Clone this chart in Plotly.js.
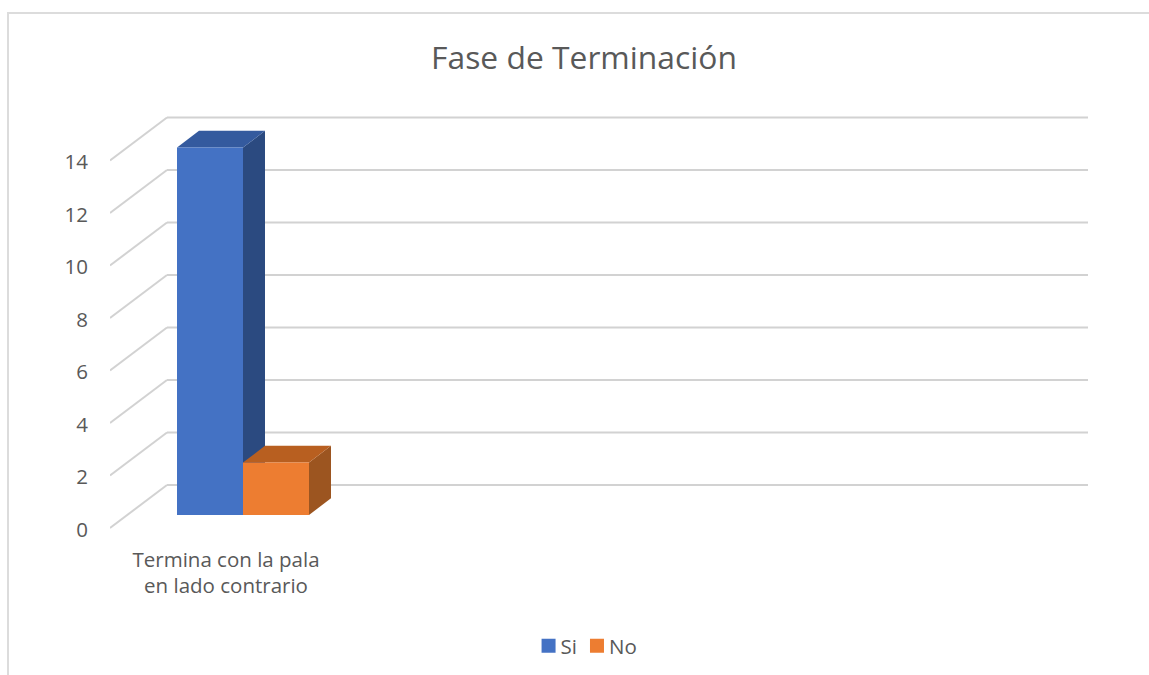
<!DOCTYPE html>
<html>
<head>
<meta charset="utf-8">
<script src="https://cdn.plot.ly/plotly-3.0.1.min.js"></script>
<style>
  html, body { margin: 0; padding: 0; background: #fff; overflow: hidden; }
  #frame { position: absolute; left: 7px; top: 12px; right: 0; bottom: 0; border-left: 2px solid #dcdcdc; border-top: 2px solid #dcdcdc; }
  #chart { position: absolute; left: 0; top: 0; width: 1149px; height: 675px; }
</style>
</head>
<body>
<div id="frame"></div>
<div id="chart"></div>
<script>
const categories = ["Termina con la pala<br>en lado contrario"];
const siValues = [14];
const noValues = [2];
const yTicks = [0, 2, 4, 6, 8, 10, 12, 14];

const textColor = "#595959";
const gridColor = "#d2d2d2";

// fake 3D depth, in axis units
const wallDx = 57 / 264;
const wallDyBack = 30 / 26.25;
const wallDyFront = -13 / 26.25;
const barDx = 22 / 264;
const barDy = 16.7 / 26.25;
const barWidth = 0.25;
const xMin = -133 / 264;
const xMax = 845 / 264;

function poly(pts, color) {
  const path = "M" + pts.map(p => p[0] + "," + p[1]).join("L") + "Z";
  return { type: "path", path: path, xref: "x", yref: "y", fillcolor: color, line: { width: 0 }, layer: "below" };
}

function barFaces(x0, x1, v, topColor, sideColor) {
  return [
    poly([[x1, 0], [x1 + barDx, barDy], [x1 + barDx, v + barDy], [x1, v]], sideColor),
    poly([[x0, v], [x0 + barDx, v + barDy], [x1 + barDx, v + barDy], [x1, v]], topColor),
  ];
}

function gridShapes() {
  const out = [];
  yTicks.forEach(v => {
    const line = { color: gridColor, width: 2 };
    out.push({ type: "line", xref: "x", yref: "y", layer: "below", line: line,
      x0: xMin, y0: v + wallDyFront, x1: xMin + wallDx, y1: v + wallDyBack });
    out.push({ type: "line", xref: "x", yref: "y", layer: "below", line: line,
      x0: xMin + wallDx, y0: v + wallDyBack, x1: xMax, y1: v + wallDyBack });
  });
  return out;
}

const xPos = categories.map((c, i) => i);

const shapes = gridShapes()
  .concat(barFaces(-barWidth, 0, siValues[0], "#345a9e", "#2b4a80"))
  .concat(barFaces(0, barWidth, noValues[0], "#b85f20", "#9c5520"));

// legend in the reference is tighter than plotly's: bigger swatch, less gap
function tightenLegend() {
  document.querySelectorAll("#chart .legend .traces").forEach((g, i) => {
    const t = g.getAttribute("transform").match(/translate\(([-\d.]+),\s*([-\d.]+)\)/);
    g.setAttribute("transform", `translate(${+t[1] - i * 13},${t[2]})`);
    const label = g.querySelector(".legendtext");
    label.setAttribute("x", 32);
    label.querySelectorAll("tspan").forEach(s => s.setAttribute("x", 32));
    g.querySelectorAll(".legendpoints path").forEach(p => {
      p.setAttribute("d", "M7,7H-7V-7H7Z");
    });
  });
}

Plotly.newPlot(
  "chart",
  [
    { type: "bar", name: "Si", x: xPos, y: siValues, marker: { color: "#4472c4" }, hoverinfo: "y+name" },
    { type: "bar", name: "No", x: xPos, y: noValues, marker: { color: "#ed7d31" }, hoverinfo: "y+name" },
  ],
  {
    width: 1149,
    height: 675,
    paper_bgcolor: "rgba(0,0,0,0)",
    plot_bgcolor: "rgba(0,0,0,0)",
    font: { family: "Open Sans, sans-serif", color: textColor, size: 20.5 },
    margin: { l: 110, r: 61, t: 100, b: 135, pad: 0 },
    title: {
      text: "Fase de Terminación",
      font: { size: 31.8, color: textColor },
      x: 584 / 1149,
      xanchor: "center",
      y: 1 - 58 / 675,
      yanchor: "middle",
    },
    barmode: "group",
    bargap: 0.5,
    bargroupgap: 0,
    xaxis: {
      type: "linear",
      range: [xMin, xMax],
      tickmode: "array",
      tickvals: [-17 / 264],
      ticktext: categories,
      showgrid: false,
      zeroline: false,
      showline: false,
      ticks: "",
      ticklabelstandoff: 5,
      fixedrange: true,
    },
    yaxis: {
      range: [-25 / 26.25, 415 / 26.25],
      tickmode: "array",
      tickvals: yTicks.map(v => v - 0.56),
      ticktext: yTicks.map(String),
      showgrid: false,
      zeroline: false,
      showline: false,
      ticks: "",
      ticklabelstandoff: 21,
      fixedrange: true,
    },
    shapes: shapes,
    showlegend: true,
    legend: {
      orientation: "h",
      x: 0.497,
      xanchor: "center",
      yref: "container",
      y: 1 - 626 / 675,
      yanchor: "top",
      font: { size: 20.5, color: textColor },
    },
  },
  { displayModeBar: false, responsive: false }
).then(tightenLegend);
</script>
</body>
</html>
